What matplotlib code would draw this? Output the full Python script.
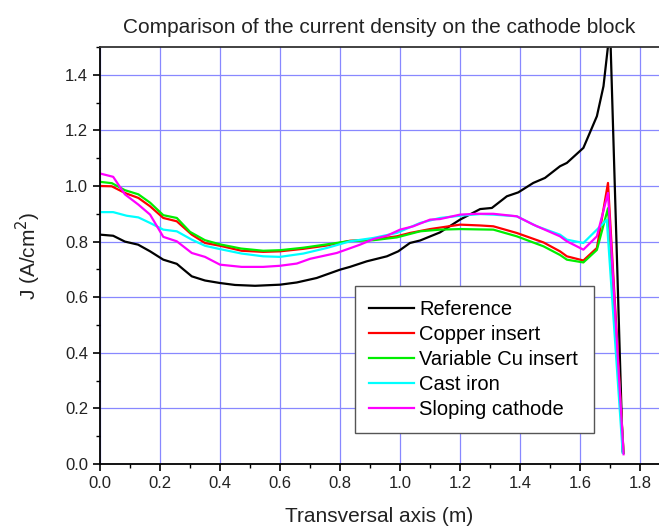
import numpy as np
import matplotlib.pyplot as plt
from matplotlib.ticker import MultipleLocator

plt.rcParams['font.family'] = ['Liberation Sans', 'DejaVu Sans']

# current density along the cathode, A/cm2
x_ref = [0.0, 0.044, 0.083, 0.127, 0.167, 0.211, 0.256, 0.278, 0.306, 0.35, 0.4, 0.45,
         0.517, 0.6, 0.656, 0.722, 0.8, 0.833, 0.889, 0.956, 0.994, 1.033, 1.067, 1.133,
         1.2, 1.267, 1.306, 1.356, 1.394, 1.444, 1.483, 1.533, 1.556, 1.611, 1.656,
         1.678, 1.70, 1.742]
j_ref = [0.825, 0.821, 0.80, 0.789, 0.765, 0.735, 0.72, 0.70, 0.675, 0.66, 0.651, 0.644,
         0.641, 0.645, 0.653, 0.669, 0.699, 0.709, 0.729, 0.747, 0.765, 0.795, 0.804, 0.833,
         0.879, 0.917, 0.921, 0.963, 0.977, 1.011, 1.029, 1.071, 1.083, 1.137, 1.251,
         1.359, 1.57, 0.045]

x_cu = [0.0, 0.039, 0.083, 0.128, 0.167, 0.211, 0.256, 0.306, 0.35, 0.4, 0.472, 0.544,
        0.6, 0.678, 0.756, 0.833, 0.911, 0.989, 1.033, 1.1, 1.2, 1.267, 1.311, 1.389,
        1.478, 1.533, 1.556, 1.611, 1.656, 1.693, 1.745]
j_cu = [1.0, 0.999, 0.975, 0.957, 0.927, 0.885, 0.873, 0.825, 0.795, 0.785, 0.767, 0.763,
        0.765, 0.774, 0.786, 0.803, 0.807, 0.819, 0.831, 0.845, 0.861, 0.858, 0.855, 0.831,
        0.797, 0.765, 0.747, 0.732, 0.777, 1.011, 0.04]

x_var = [0.0, 0.04, 0.083, 0.128, 0.167, 0.211, 0.256, 0.3, 0.35, 0.4, 0.47, 0.544,
         0.6, 0.678, 0.756, 0.833, 0.911, 0.989, 1.067, 1.133, 1.2, 1.311, 1.389, 1.478,
         1.533, 1.556, 1.611, 1.656, 1.693, 1.745]
j_var = [1.015, 1.01, 0.985, 0.97, 0.94, 0.895, 0.885, 0.835, 0.805, 0.79, 0.775, 0.767,
         0.769, 0.778, 0.79, 0.802, 0.805, 0.815, 0.837, 0.843, 0.845, 0.843, 0.819, 0.783,
         0.752, 0.735, 0.725, 0.77, 0.92, 0.04]

x_fe = [0.0, 0.044, 0.089, 0.128, 0.167, 0.211, 0.256, 0.306, 0.35, 0.4, 0.472, 0.544,
        0.6, 0.678, 0.756, 0.833, 0.911, 0.989, 1.067, 1.133, 1.2, 1.267, 1.311, 1.389,
        1.456, 1.533, 1.556, 1.611, 1.656, 1.689, 1.742]
j_fe = [0.906, 0.906, 0.893, 0.887, 0.867, 0.843, 0.837, 0.807, 0.785, 0.773, 0.757, 0.747,
        0.745, 0.757, 0.777, 0.801, 0.813, 0.831, 0.867, 0.885, 0.893, 0.899, 0.897, 0.891,
        0.855, 0.825, 0.807, 0.795, 0.843, 0.879, 0.04]

x_slope = [0.0, 0.044, 0.083, 0.128, 0.167, 0.211, 0.256, 0.306, 0.35, 0.4, 0.472, 0.544,
           0.6, 0.656, 0.7, 0.789, 0.867, 0.911, 0.956, 1.0, 1.044, 1.1, 1.133, 1.2, 1.256,
           1.311, 1.389, 1.444, 1.533, 1.556, 1.611, 1.656, 1.693, 1.745]
j_slope = [1.045, 1.033, 0.97, 0.933, 0.897, 0.817, 0.801, 0.759, 0.745, 0.717, 0.709, 0.709,
           0.713, 0.721, 0.738, 0.759, 0.789, 0.809, 0.821, 0.843, 0.855, 0.879, 0.881, 0.897,
           0.9, 0.9, 0.891, 0.861, 0.819, 0.801, 0.771, 0.819, 0.975, 0.035]

fig = plt.figure(figsize=(6.59, 5.31), dpi=100)
ax = fig.add_axes([0.1517, 0.1262, 0.8483, 0.7853])

ax.plot(x_ref, j_ref, color='black', lw=1.6, label='Reference')
ax.plot(x_cu, j_cu, color='#ff0000', lw=1.6, label='Copper insert')
ax.plot(x_var, j_var, color='#00ee00', lw=1.6, label='Variable Cu insert')
ax.plot(x_fe, j_fe, color='#00ffff', lw=1.6, label='Cast iron')
ax.plot(x_slope, j_slope, color='#ff00ff', lw=1.6, label='Sloping cathode')

ax.set_xlim(0, 1.863)
ax.set_ylim(0, 1.5)
ax.xaxis.set_major_locator(MultipleLocator(0.2))
ax.xaxis.set_minor_locator(MultipleLocator(0.1))
ax.yaxis.set_major_locator(MultipleLocator(0.2))
ax.yaxis.set_minor_locator(MultipleLocator(0.1))
ax.xaxis.set_major_formatter(plt.FormatStrFormatter('%.1f'))
ax.yaxis.set_major_formatter(plt.FormatStrFormatter('%.1f'))

ax.grid(True, which='major', color='#8888ff', lw=0.9)
ax.set_axisbelow(True)
ax.spines['right'].set_visible(False)
ax.spines['top'].set_color('#333333')
for s in ['left', 'bottom', 'top']:
    ax.spines[s].set_linewidth(1.3)
ax.tick_params(which='major', direction='out', length=5, width=1.2, labelsize=12, colors='black')
ax.tick_params(which='minor', direction='out', length=3, width=1.0)
ax.tick_params(axis='both', labelcolor='#222222')

ax.set_title('Comparison of the current density on the cathode block', fontsize=15, pad=10, color='#222222')
ax.set_xlabel('Transversal axis (m)', fontsize=15, labelpad=12, color='#222222')
ax.set_ylabel('J (A/cm$^2$)', fontsize=15, labelpad=16, color='#222222')

leg = ax.legend(loc='lower left', bbox_to_anchor=(0.456, 0.074, 0.428, 0.353), mode='expand',
                fontsize=14.5, frameon=True, fancybox=False, handlelength=2.25,
                borderpad=0.7, labelspacing=0.3, handletextpad=0.25, borderaxespad=0)
leg.get_frame().set_edgecolor('#555555')
leg.get_frame().set_linewidth(1.0)
leg.get_frame().set_alpha(1)

fig.savefig('out.png', dpi=100)
